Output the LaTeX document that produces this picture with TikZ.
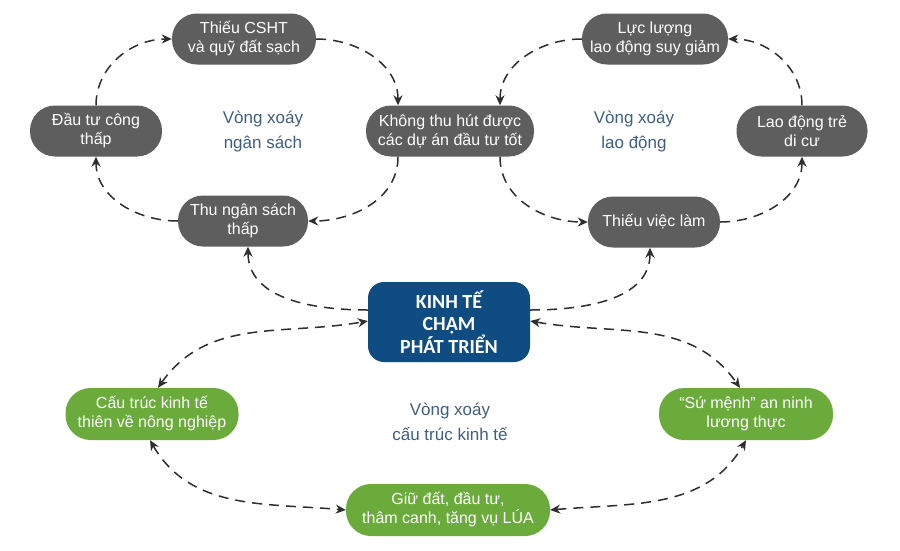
\documentclass[tikz,border=0pt]{standalone}
\usepackage{fontspec}
\setmainfont{Liberation Sans}
\newfontfamily\ktfont{Carlito}
\usetikzlibrary{arrows.meta}
\definecolor{graybox}{HTML}{5E5E5E}
\definecolor{greenbox}{HTML}{6AAB3C}
\definecolor{bluebox}{HTML}{0F4C81}
\definecolor{labelblue}{HTML}{3F5F7F}
\definecolor{linec}{HTML}{2E2E2E}
\begin{document}
\begin{tikzpicture}[x=1pt,y=1pt,
  pill/.style={rounded corners=25pt, minimum height=51pt, text=white, align=center,
    font=\fontsize{16}{19}\selectfont, inner sep=0pt},
  graypill/.style={pill, fill=graybox},
  greenpill/.style={pill, fill=greenbox, minimum height=52pt},
  ktbox/.style={rounded corners=16pt, fill=bluebox, text=white, align=center,
    minimum width=162pt, minimum height=80pt, inner sep=0pt,
    font=\ktfont\bfseries\fontsize{20}{22.5}\selectfont},
  looplabel/.style={text=labelblue, align=center, font=\fontsize{17}{25}\selectfont},
  tip/.style={},
  conn/.style={draw=linec, line width=1.5pt, dash pattern=on 10pt off 7pt,
    -{Stealth[length=10pt,width=9pt]}},
  both/.style={conn, {Stealth[length=10pt,width=9pt]}-{Stealth[length=10pt,width=9pt]}}
]
\useasboundingbox (0,0) rectangle (900,-550);
\fill[white] (0,0) rectangle (900,-550);

% gray nodes
\node[graypill, minimum width=144pt] (A) at (244,-39) {Thiếu CSHT\\và quỹ đất sạch};
\node[graypill, minimum width=168pt] (B) at (450,-131) {Không thu hút được\\các dự án đầu tư tốt};
\node[graypill, minimum width=130pt] (C) at (243,-221) {Thu ngân sách\\thấp};
\node[graypill, minimum width=132pt] (D) at (96,-131) {Đầu tư công\\thấp};
\node[graypill, minimum width=146pt] (E) at (655,-39) {Lực lượng\\lao động suy giảm};
\node[graypill, minimum width=131pt] (F) at (802,-131) {Lao động trẻ\\di cư};
\node[graypill, minimum width=132pt] (G) at (654,-222) {Thiếu việc làm};

% central node
\node[ktbox] (K) at (449,-322) {KINH TẾ\\CHẬM\\PHÁT TRIỂN};

% green nodes
\node[greenpill, minimum width=173pt] (H) at (152,-414) {Cấu trúc kinh tế\\thiên về nông nghiệp};
\node[greenpill, minimum width=174pt] (I) at (746,-414) {“Sứ mệnh” an ninh\\lương thực};
\node[greenpill, minimum width=204pt] (J) at (448,-510) {Giữ đất, đầu tư,\\thâm canh, tăng vụ LÚA};

% loop labels
\node[looplabel] (L1) at (263,-131) {Vòng xoáy\\ngân sách};
\node[looplabel] (L2) at (634,-131) {Vòng xoáy\\lao động};
\node[looplabel] (L3) at (450,-422) {Vòng xoáy\\cấu trúc kinh tế};

% budget loop
\draw[conn] (D.north) to[out=90,in=180] (A.west);
\draw[conn] (A.east) to[out=0,in=90] ([xshift=-52pt]B.north);
\draw[conn] ([xshift=-52pt]B.south) to[out=-90,in=0] (C.east);
\draw[conn] (C.west) to[out=180,in=-90] (D.south);

% labour loop
\draw[conn] (E.west) to[out=180,in=90] ([xshift=50pt]B.north);
\draw[conn] ([xshift=50pt]B.south) to[out=-90,in=180] (G.west);
\draw[conn] (G.east) to[out=0,in=-90] (F.south);
\draw[conn] (F.north) to[out=90,in=0] (E.east);

% centre links
\draw[conn] ([yshift=12pt]K.west) to[out=180,in=-90] ([xshift=5pt]C.south);
\draw[conn] ([yshift=12pt]K.east) to[out=0,in=-90] ([xshift=-4pt]G.south);
\draw[both] ([xshift=6pt]H.north) to[out=55,in=190] ([yshift=1pt]K.west);
\draw[both] ([yshift=1pt]K.east) to[out=-10,in=125] ([xshift=-6pt]I.north);
\draw[both] ([xshift=-2pt]H.south) to[out=-60,in=175] (J.west);
\draw[both] (J.east) to[out=5,in=-120] (I.south);
\end{tikzpicture}
\end{document}
